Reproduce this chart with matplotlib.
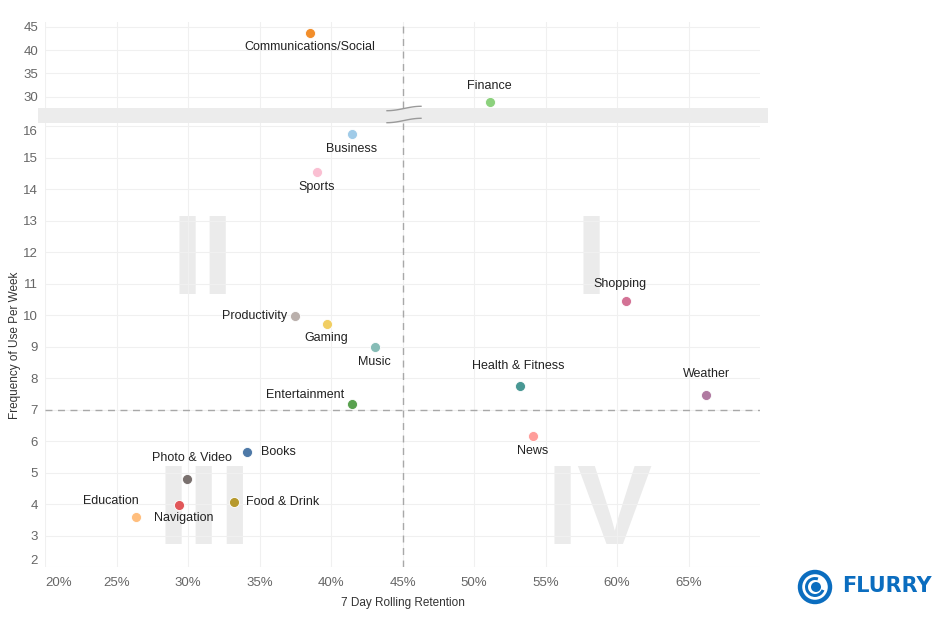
import numpy as np
import matplotlib
matplotlib.use("Agg")
import matplotlib.pyplot as plt
from matplotlib.patches import Rectangle, Circle, Wedge
from matplotlib.lines import Line2D
from matplotlib.ticker import FuncFormatter

plt.rcParams['font.family'] = ['Liberation Sans', 'DejaVu Sans']

# categorias e valores
categories = ["Communications/Social", "Finance", "Business", "Sports", "Productivity",
              "Gaming", "Music", "Entertainment", "Books", "Photo & Video", "Navigation",
              "Education", "Food & Drink", "News", "Shopping", "Health & Fitness", "Weather"]
retention = [38.5, 51.1, 41.45, 39.0, 37.5, 39.7, 43.05, 41.45, 34.1, 29.9, 29.35,
             26.35, 33.2, 54.1, 60.6, 53.2, 66.2]
frequency = [43.6, 28.9, 15.75, 14.55, 9.97, 9.72, 8.99, 7.19, 5.64, 4.78, 3.97,
             3.6, 4.06, 6.15, 10.44, 7.75, 7.45]
colors = ["#f28e2b", "#8cd17d", "#a0cbe8", "#fabfd2", "#bab0ac", "#f1ce63", "#86bcb6",
          "#59a14f", "#4e79a7", "#79706e", "#e15759", "#ffbe7d", "#b6992d", "#ff9d9a",
          "#d37295", "#499894", "#b07aa1"]
# deslocamento do rotulo (pixels) e alinhamento
label_offsets = [(0, -13), (0, 15), (0, -14), (0, -14), (-8, 0), (0, -13), (0, -14),
                 (-7, 8), (14, 0), (5, 20), (5, -12), (-25, 15), (12, 0), (0, -14),
                 (-6, 16), (-2, 19), (1, 20)]
label_ha = ["center", "center", "center", "center", "right", "center", "center",
            "right", "left", "center", "center", "center", "left", "center",
            "center", "center", "center"]

x_ticks = [20, 25, 30, 35, 40, 45, 50, 55, 60, 65]
upper_ticks = [30, 35, 40, 45]
lower_ticks = list(range(2, 17))
quadrants = ["I", "II", "III", "IV"]
quad_x = [58.2, 31.0, 31.1, 58.8]
quad_y = [10.68, 10.68, 2.74, 2.74]

W, H = 936, 622
fig = plt.figure(figsize=(W / 100, H / 100), dpi=100)

def fx(px):
    return px / W

def fy(px):
    return 1 - px / H

left, right = 45, 760
ax_top = fig.add_axes([fx(left), fy(108), fx(right - left), fy(22) - fy(108)])
ax_bot = fig.add_axes([fx(left), fy(567), fx(right - left), fy(123) - fy(567)])

grid_c = "#f0f0f0"
dash_c = "#a8a8a8"
for ax in (ax_top, ax_bot):
    ax.set_xlim(20, 70)
    ax.set_xticks(x_ticks)
    for s in ax.spines.values():
        s.set_visible(False)
    ax.grid(True, color=grid_c, linewidth=0.8)
    ax.set_axisbelow(True)
    ax.tick_params(length=0, labelsize=9.5, labelcolor="#666666", pad=5)
    ax.axvline(45, color=dash_c, linestyle=(0, (5, 4)), linewidth=1, zorder=1)

ax_top.set_ylim(27.6, 46.0)
ax_top.set_yticks(upper_ticks)
ax_top.tick_params(labelbottom=False)
ax_bot.set_ylim(2, 16.1)
ax_bot.set_yticks(lower_ticks)
ax_bot.tick_params(axis="x", pad=7)
ax_bot.xaxis.set_major_formatter(FuncFormatter(lambda v, p: f"{v:.0f}%"))
ax_bot.axhline(7, color=dash_c, linestyle=(0, (5, 4)), linewidth=1, zorder=1)

# rotulos das pontas ficam dentro da area, como no original
fig.canvas.draw()
ax_bot.get_xticklabels()[0].set_horizontalalignment("left")
ylabs = ax_bot.get_yticklabels()
ylabs[0].set_verticalalignment("bottom")
ylabs[-1].set_verticalalignment("top")

# numerais romanos dos quadrantes
for q, qx, qy in zip(quadrants, quad_x, quad_y):
    ax_bot.text(qx, qy, q, fontsize=81, fontweight="bold", color="#ebebeb",
                ha="center", va="baseline", zorder=0)

for name, x, y, c, off, ha in zip(categories, retention, frequency, colors,
                                  label_offsets, label_ha):
    ax = ax_top if y > 20 else ax_bot
    ax.scatter([x], [y], s=52, color=c, edgecolor="white", linewidth=0.6, zorder=3)
    va = "center" if off[1] == 0 else ("bottom" if off[1] > 0 else "top")
    dy = off[1] - 5 if off[1] > 0 else (off[1] + 5 if off[1] < 0 else 0)
    ax.annotate(name, (x, y), xytext=(off[0], dy), textcoords="offset pixels",
                ha=ha, va=va, fontsize=9, color="#222222", zorder=4)

# faixa cinza de quebra do eixo
fig.patches.append(Rectangle((fx(38), fy(123)), fx(768 - 38), fy(108) - fy(123),
                             transform=fig.transFigure, facecolor="#ececec",
                             edgecolor="none", zorder=5))
t = np.linspace(0, 1, 40)
for yc in (108.5, 120.5):
    xs = fx(387 + 34 * t)
    ys = fy(yc + 2.2 * np.cos(np.pi * t))
    fig.lines.append(Line2D(xs, ys, transform=fig.transFigure, color="#9a9a9a",
                            linewidth=1, zorder=6))

fig.text(fx(403), fy(603), "7 Day Rolling Retention", ha="center", va="center",
         fontsize=8.5, color="#333333")
fig.text(fx(15), fy(345), "Frequency of Use Per Week", ha="center", va="center",
         rotation=90, fontsize=8.5, color="#333333")

# logo (em polegadas para manter o circulo redondo)
blue = "#0b6dbf"
lx, ly = 8.15, (H - 587) / 100
inch = fig.dpi_scale_trans
fig.patches.append(Circle((lx, ly), 0.15, transform=inch, facecolor="none",
                          edgecolor=blue, linewidth=3.2))
fig.patches.append(Wedge((lx, ly), 0.10, 70, 340, width=0.03, transform=inch,
                         facecolor=blue, edgecolor="none"))
fig.patches.append(Circle((lx + 0.01, ly), 0.05, transform=inch,
                          facecolor=blue, edgecolor="none"))
fig.text(fx(842), fy(586), "FLURRY", ha="left", va="center", fontsize=15,
         fontweight="bold", color=blue, family="DejaVu Sans")

fig.savefig("out.png", dpi=100)
